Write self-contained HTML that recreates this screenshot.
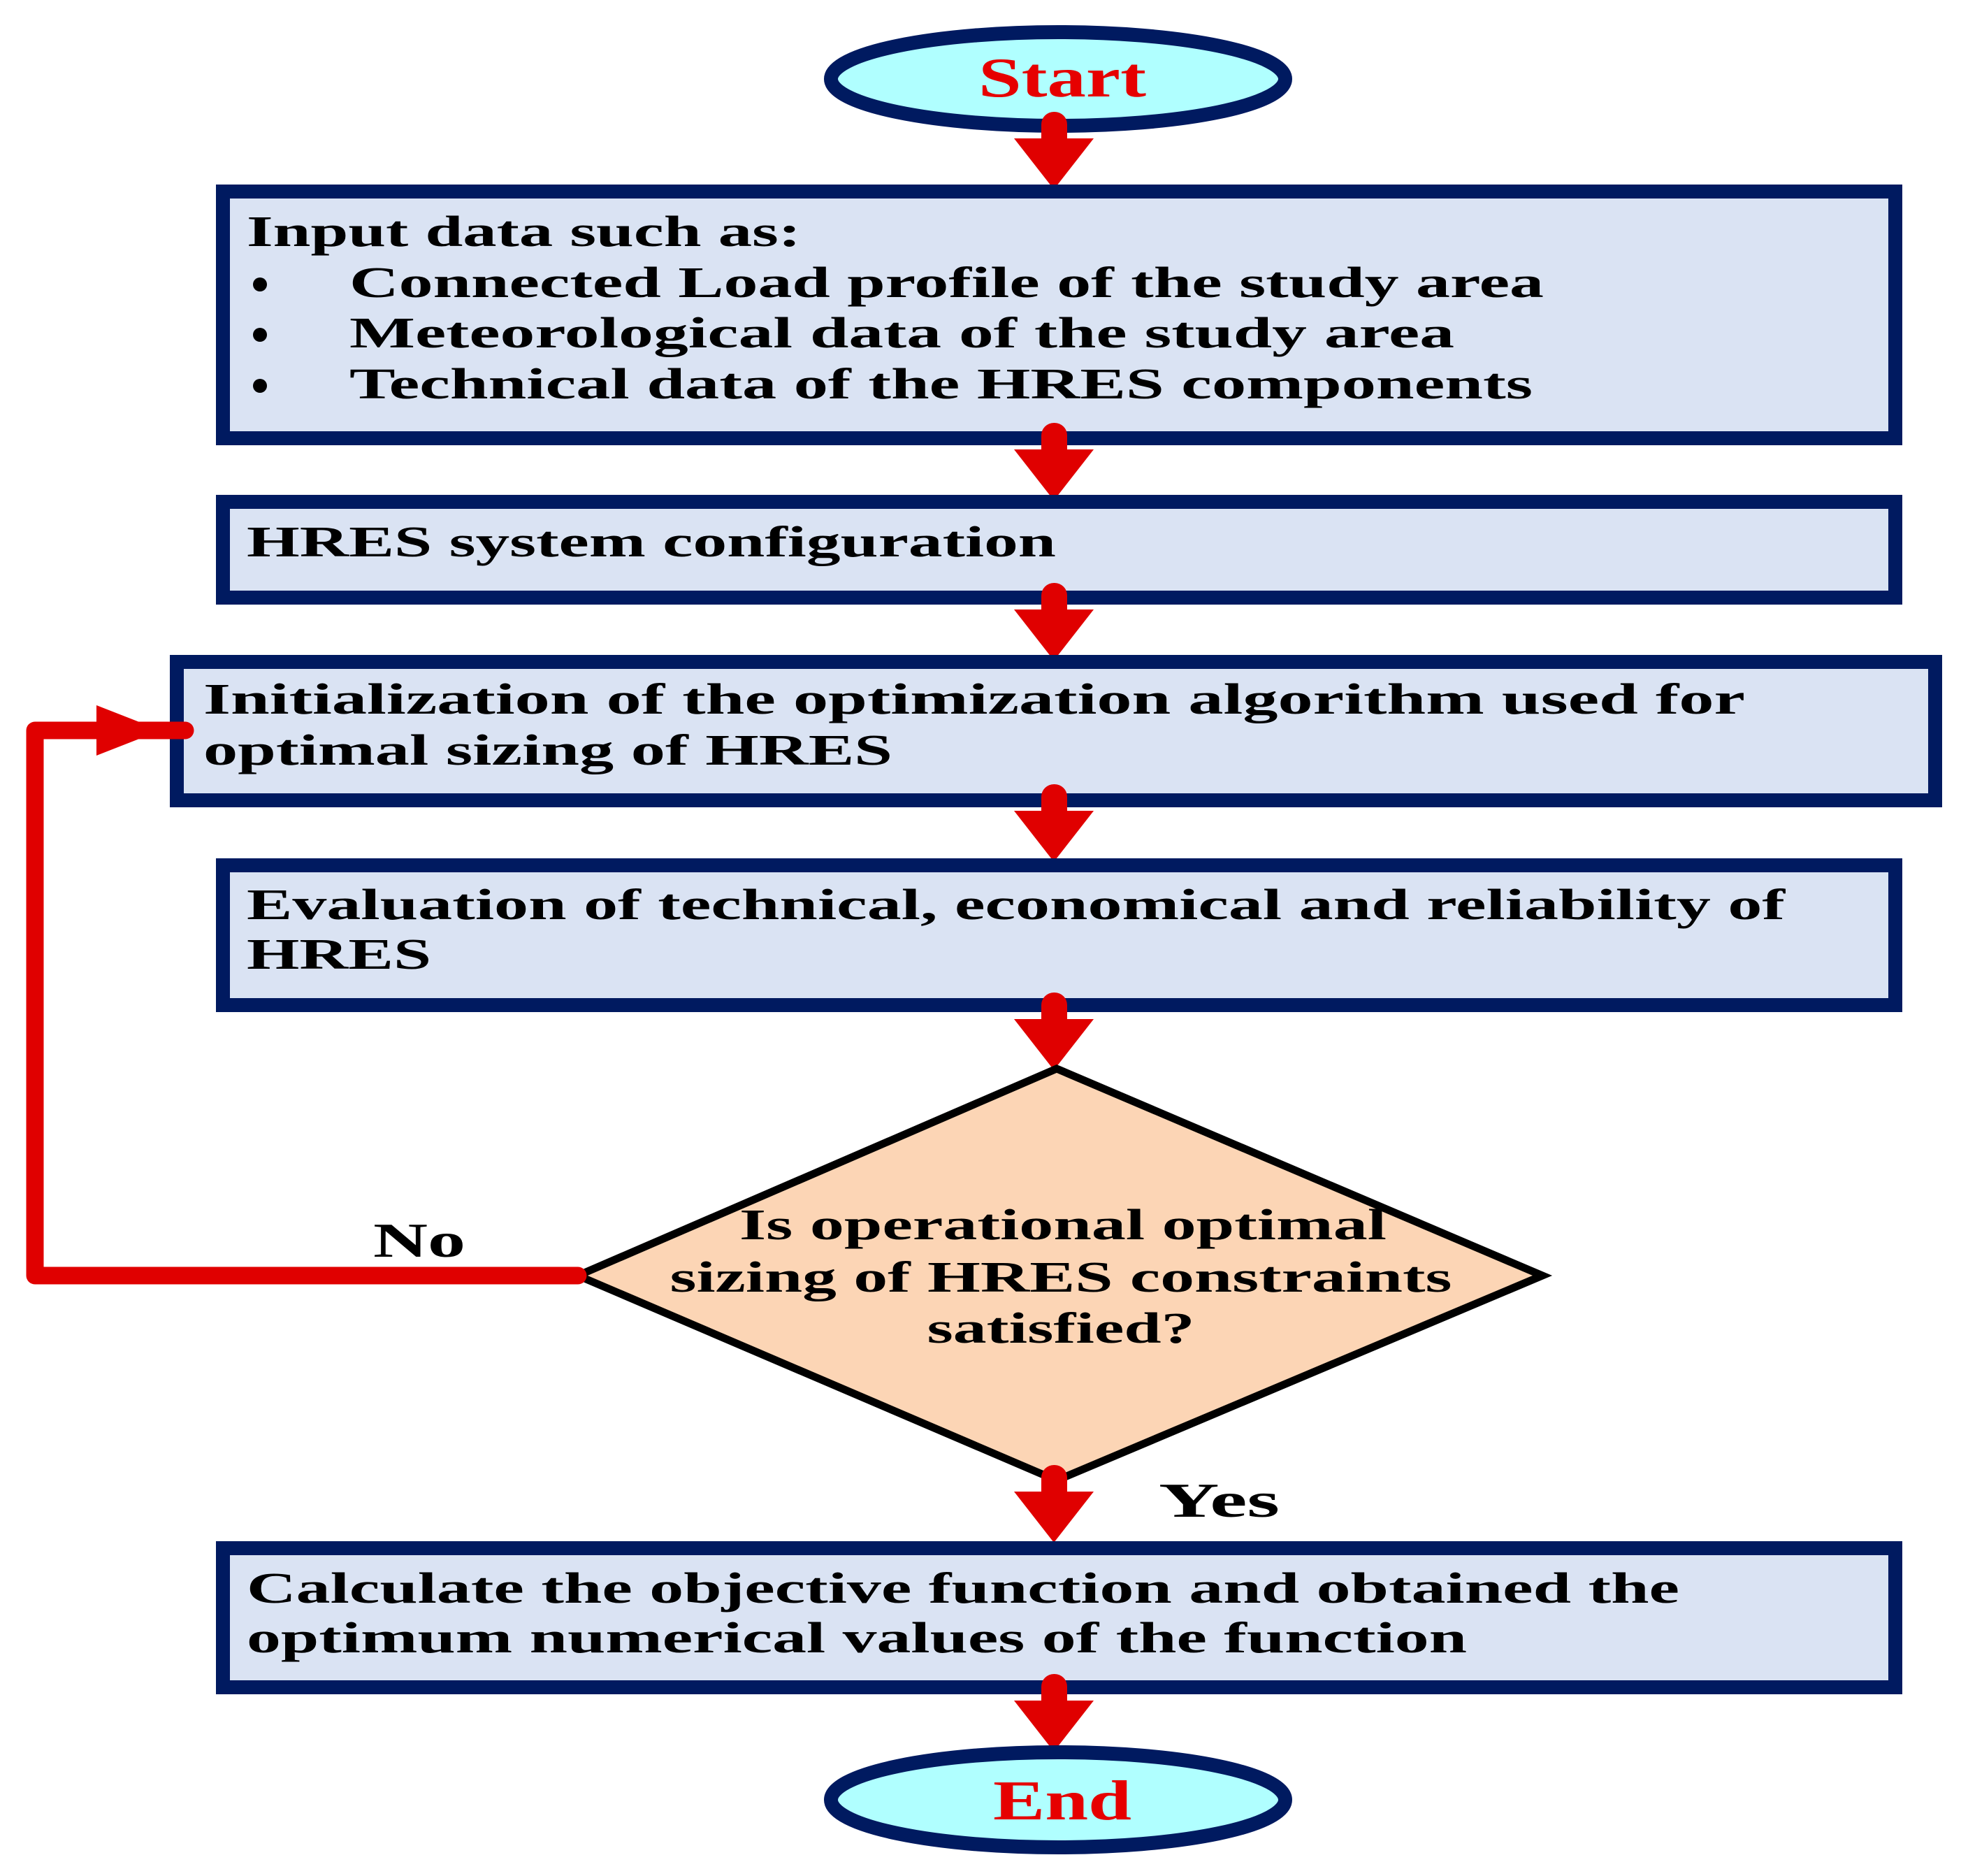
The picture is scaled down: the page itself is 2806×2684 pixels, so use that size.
<!DOCTYPE html>
<html><head><meta charset="utf-8"><style>
html,body{margin:0;padding:0;background:#fff}
svg{display:block}
text{font-family:"Liberation Serif",serif;font-weight:bold}
</style></head><body>
<svg width="2806" height="2684" viewBox="0 0 2806 2684" xmlns="http://www.w3.org/2000/svg">
<defs>
<g id="arr">
<rect x="-18" y="0" width="37" height="60" rx="18" fill="#e00000"/>
<polygon points="-57,38 57,38 0,111" fill="#e00000"/>
</g>
</defs>
<!-- Start -->
<ellipse cx="1514" cy="113" rx="325" ry="67" fill="#b0ffff" stroke="#001a60" stroke-width="20"/>
<text x="1520" y="138" font-size="80" fill="#e60000" text-anchor="middle" textLength="240" lengthAdjust="spacingAndGlyphs">Start</text>
<use href="#arr" x="1508" y="160"/>
<!-- Box1 -->
<rect x="319" y="274" width="2393" height="353" fill="#dae3f3" stroke="#001a60" stroke-width="20"/>
<text x="353" y="352" font-size="62" textLength="793" lengthAdjust="spacingAndGlyphs">Input data such as:</text>
<circle cx="372" cy="407" r="10"/><circle cx="372" cy="479" r="10"/><circle cx="372" cy="552" r="10"/>
<text x="500" y="425" font-size="62" textLength="1709" lengthAdjust="spacingAndGlyphs">Connected Load profile of the study area</text>
<text x="500" y="497" font-size="62" textLength="1581" lengthAdjust="spacingAndGlyphs">Meteorological  data of the study area</text>
<text x="500" y="570" font-size="62" textLength="1693" lengthAdjust="spacingAndGlyphs">Technical data of the HRES components</text>
<use href="#arr" x="1508" y="605"/>
<!-- Box2 -->
<rect x="319" y="718" width="2393" height="137" fill="#dae3f3" stroke="#001a60" stroke-width="20"/>
<text x="353" y="796" font-size="62" textLength="1158" lengthAdjust="spacingAndGlyphs">HRES system configuration</text>
<use href="#arr" x="1508" y="834"/>
<!-- Box3 -->
<rect x="253" y="947" width="2516" height="198" fill="#dae3f3" stroke="#001a60" stroke-width="20"/>
<text x="291" y="1021" font-size="62" textLength="2206" lengthAdjust="spacingAndGlyphs">Initialization of  the optimization algorithm  used for</text>
<text x="291" y="1094" font-size="62" textLength="986" lengthAdjust="spacingAndGlyphs">optimal sizing of HRES</text>
<use href="#arr" x="1508" y="1122"/>
<!-- Box4 -->
<rect x="319" y="1238" width="2393" height="200" fill="#dae3f3" stroke="#001a60" stroke-width="20"/>
<text x="353" y="1315" font-size="62" textLength="2201" lengthAdjust="spacingAndGlyphs">Evaluation of technical, economical and reliability of</text>
<text x="353" y="1386" font-size="62" textLength="264" lengthAdjust="spacingAndGlyphs">HRES</text>
<use href="#arr" x="1508" y="1420"/>
<!-- Diamond -->
<polygon points="1512,1529 2207,1825 1512,2118 827,1825" fill="#fcd5b5" stroke="#000" stroke-width="11" stroke-linejoin="miter"/>
<text x="1521" y="1773" font-size="62" text-anchor="middle" textLength="926" lengthAdjust="spacingAndGlyphs">Is operational optimal</text>
<text x="1518" y="1848" font-size="62" text-anchor="middle" textLength="1119" lengthAdjust="spacingAndGlyphs">sizing of HRES constraints</text>
<text x="1518" y="1921" font-size="62" text-anchor="middle" textLength="383" lengthAdjust="spacingAndGlyphs">satisfied?</text>
<!-- loop -->
<polyline points="827,1825 50,1825 50,1045 265,1045" fill="none" stroke="#e00000" stroke-width="25" stroke-linecap="round" stroke-linejoin="round"/>
<polygon points="138,1009 138,1081 230,1045" fill="#e00000"/>
<text x="534" y="1798" font-size="70" textLength="132" lengthAdjust="spacingAndGlyphs">No</text>
<text x="1658" y="2170" font-size="70" textLength="173" lengthAdjust="spacingAndGlyphs">Yes</text>
<use href="#arr" x="1508" y="2096"/>
<!-- Box5 -->
<rect x="319" y="2215" width="2393" height="199" fill="#dae3f3" stroke="#001a60" stroke-width="20"/>
<text x="353" y="2293" font-size="62" textLength="2050" lengthAdjust="spacingAndGlyphs">Calculate the objective function and obtained the</text>
<text x="353" y="2364" font-size="62" textLength="1746" lengthAdjust="spacingAndGlyphs">optimum numerical values of the function</text>
<use href="#arr" x="1508" y="2395"/>
<!-- End -->
<ellipse cx="1514" cy="2575" rx="325" ry="68" fill="#b0ffff" stroke="#001a60" stroke-width="20"/>
<text x="1520" y="2603" font-size="80" fill="#e60000" text-anchor="middle" textLength="198" lengthAdjust="spacingAndGlyphs">End</text>
</svg>
</body></html>
